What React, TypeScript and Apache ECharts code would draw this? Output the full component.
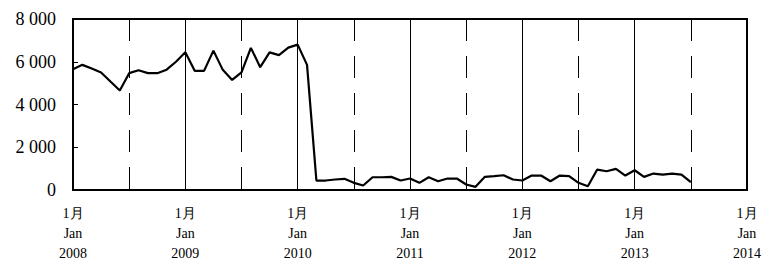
import React, { useEffect, useRef } from "react";
import * as echarts from "echarts";

const years = [2008, 2009, 2010, 2011, 2012, 2013, 2014];
const monthCount = 12;
const values2008 = [5654, 5854, 5680, 5497, 5075, 4656, 5466, 5600, 5466, 5466, 5630, 6000];
const values2009 = [6440, 5574, 5574, 6520, 5620, 5150, 5500, 6650, 5747, 6440, 6310, 6662];
const values2010 = [6800, 5854, 443, 443, 490, 522, 335, 210, 597, 597, 615, 443];
const values2011 = [536, 335, 597, 410, 536, 536, 257, 149, 615, 645, 690, 490];
const values2012 = [443, 676, 676, 410, 676, 645, 335, 177, 956, 878, 988, 676];
const values2013 = [925, 615, 770, 723, 770, 723, 365];
const yTicks = [0, 2000, 4000, 6000, 8000];

const seriesValues = [
  ...values2008,
  ...values2009,
  ...values2010,
  ...values2011,
  ...values2012,
  ...values2013,
];

const categories: string[] = [];
years.forEach((y, yi) => {
  const n = yi === years.length - 1 ? 1 : monthCount;
  for (let m = 1; m <= n; m++) categories.push(`${y}-${m}`);
});

const FONT = "'Liberation Serif', 'Times New Roman', serif";

export default function App() {
  const ref = useRef<HTMLDivElement>(null);
  useEffect(() => {
    if (!ref.current) return;
    const chart = echarts.init(ref.current, undefined, { renderer: "svg" });
    chart.setOption({
      animation: false,
      grid: {
        left: 73,
        right: 16,
        top: 19,
        bottom: 74,
        show: true,
        borderWidth: 2,
        borderColor: "#000",
        containLabel: false,
        outerBoundsMode: "none",
      },
      xAxis: [
        {
          type: "category",
          data: categories,
          boundaryGap: false,
          axisLine: { show: false },
          axisTick: { show: false },
          axisLabel: {
            interval: (i: number) => i % 12 === 0,
            formatter: (v: string) => {
              const [y] = v.split("-");
              return `1月\nJan\n${y}`;
            },
            fontFamily: FONT,
            fontSize: 14,
            lineHeight: 20,
            color: "#000",
            margin: 13,
          },
          splitLine: {
            show: true,
            interval: (i: number) => i % 12 === 0 && i !== 0 && i !== categories.length - 1,
            lineStyle: { color: "#000", width: 1, type: "solid" },
          },
        },
        {
          type: "category",
          data: categories,
          boundaryGap: false,
          position: "bottom",
          axisLine: { show: false },
          axisTick: { show: false },
          axisLabel: { show: false },
          splitLine: {
            show: true,
            interval: (i: number) => i % 12 === 6,
            lineStyle: { color: "#000", width: 1, type: [22, 15] },
          },
        },
      ],
      yAxis: {
        type: "value",
        min: yTicks[0],
        max: yTicks[yTicks.length - 1],
        interval: 2000,
        axisLine: { show: false },
        axisTick: { show: true, inside: true, length: 5, lineStyle: { color: "#000", width: 1 } },
        splitLine: { show: false },
        axisLabel: {
          fontFamily: FONT,
          fontSize: 18,
          color: "#000",
          margin: 17,
          formatter: (v: number) =>
            String(v).replace(/\B(?=(\d{3})+(?!\d))/g, " "),
        },
      },
      series: [
        {
          type: "line",
          data: seriesValues,
          xAxisIndex: 0,
          showSymbol: false,
          symbol: "none",
          lineStyle: { color: "#000", width: 2.2 },
        },
      ],
    });
    return () => chart.dispose();
  }, []);
  return (
    <div
      ref={ref}
      style={{ position: "fixed", left: 0, top: 0, width: 763, height: 264, background: "#fff" }}
    />
  );
}
